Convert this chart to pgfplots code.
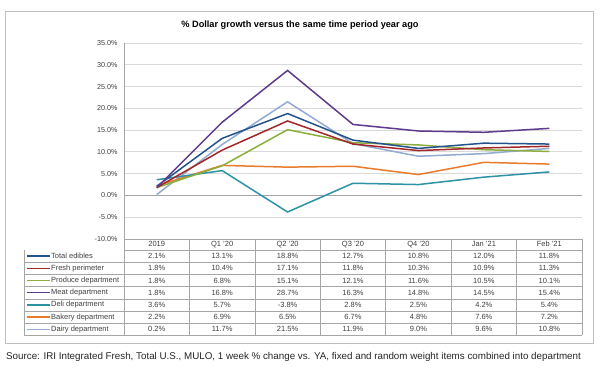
\documentclass[border=0pt]{standalone}
\usepackage{pgfplots}
\pgfplotsset{compat=1.18}
\usepackage{fontspec}
\setmainfont{Liberation Sans}
\definecolor{ctot}{HTML}{24528C}
\definecolor{cfre}{HTML}{A3262A}
\definecolor{cpro}{HTML}{8CAE3E}
\definecolor{cmea}{HTML}{5E3B8E}
\definecolor{cdel}{HTML}{2E92A6}
\definecolor{cbak}{HTML}{EA7B2C}
\definecolor{cdai}{HTML}{93AAD1}
\definecolor{gridg}{HTML}{D9D9D9}
\definecolor{tabg}{HTML}{A6A6A6}
\definecolor{frameg}{HTML}{BFBFBF}
\definecolor{txtg}{HTML}{404040}

\pgfplotstableread{
x tot fre pro mea del bak dai
0 2.1 1.8 1.8 1.8 3.6 2.2 0.2
1 13.1 10.4 6.8 16.8 5.7 6.9 11.7
2 18.8 17.1 15.1 28.7 -3.8 6.5 21.5
3 12.7 11.8 12.1 16.3 2.8 6.7 11.9
4 10.8 10.3 11.6 14.8 2.5 4.8 9.0
5 12.0 10.9 10.5 14.5 4.2 7.6 9.6
6 11.8 11.3 10.1 15.4 5.4 7.2 10.8
}\datatab

\newcommand\tabfont{\fontsize{7.5}{8}\selectfont}
\newcommand\tabrow[4]{%
  \draw[#2, line width=1.5] (27,{126-12.2*#1+6.1}) -- (50,{126-12.2*#1+6.1});
  \node[anchor=west, inner sep=0, font=\tabfont, text=txtg] at (51,{126-12.2*#1+6.1}) {#3};
  \foreach \v [count=\j] in {#4} {
    \node[inner sep=0, font=\tabfont, text=txtg] at ({124+65.43*(\j-0.5)},{126-12.2*#1+6.1}) {\v\%};
  }
}

\begin{document}
\begin{tikzpicture}[x=1pt,y=1pt]
\useasboundingbox (0,0) rectangle (600,376);
\fill[white] (0,0) rectangle (600,376);
\draw[frameg, line width=0.8] (5,33) rectangle (593,365);
\node[font=\bfseries\fontsize{9.2}{10}\selectfont, text=black] at (300,351) {\% Dollar growth versus the same time period year ago};

\begin{axis}[
  at={(124pt,137pt)}, anchor=south west,
  scale only axis, width=458pt, height=196pt,
  xmin=-0.5, xmax=6.5, ymin=-10, ymax=35,
  ytick={-10,-5,...,35}, xtick=\empty,
  axis x line=none, axis y line=left,
  y axis line style={-, tabg, line width=0.6},
  ymajorgrids, grid style={gridg, line width=0.8},
  major tick length=0pt,
  /pgf/number format/assume math mode=true,
  yticklabel={\pgfmathprintnumber[fixed,fixed zerofill,precision=1]{\tick}\%},
  yticklabel style={font=\fontsize{7.2}{8}\selectfont, text=txtg, xshift=-3pt},
  clip=false,
  every axis plot/.append style={line width=1.5, no marks},
]
\draw[tabg, line width=1.3] (axis cs:-0.5,0) -- (axis cs:6.5,0);
\addplot[cdai] table[x=x,y=dai] {\datatab};
\addplot[cbak] table[x=x,y=bak] {\datatab};
\addplot[cdel] table[x=x,y=del] {\datatab};
\addplot[cpro] table[x=x,y=pro] {\datatab};
\addplot[cfre] table[x=x,y=fre] {\datatab};
\addplot[ctot] table[x=x,y=tot] {\datatab};
\addplot[cmea] table[x=x,y=mea] {\datatab};
\end{axis}

% table grid
\begin{scope}[tabg, line width=0.6]
  \draw (124,137) -- (582,137);
  \foreach \i in {0,...,7} { \draw ({\ifnum\i=0 124\else 24\fi},{126-12.2*\i}) -- (582,{126-12.2*\i}); }
  \draw (24,126) -- (24,{126-12.2*7});
  \foreach \j in {0,...,7} { \draw ({124+65.43*\j},137) -- ({124+65.43*\j},{126-12.2*7}); }
\end{scope}
\foreach \h [count=\j] in {2019,Q1 '20,Q2 '20,Q3 '20,Q4 '20,Jan '21,Feb '21} {
  \node[inner sep=0, font=\tabfont, text=txtg] at ({124+65.43*(\j-0.5)},131.7) {\h};
}
\tabrow{1}{ctot}{Total edibles}{2.1,13.1,18.8,12.7,10.8,12.0,11.8}
\tabrow{2}{cfre}{Fresh perimeter}{1.8,10.4,17.1,11.8,10.3,10.9,11.3}
\tabrow{3}{cpro}{Produce department}{1.8,6.8,15.1,12.1,11.6,10.5,10.1}
\tabrow{4}{cmea}{Meat department}{1.8,16.8,28.7,16.3,14.8,14.5,15.4}
\tabrow{5}{cdel}{Deli department}{3.6,5.7,-3.8,2.8,2.5,4.2,5.4}
\tabrow{6}{cbak}{Bakery department}{2.2,6.9,6.5,6.7,4.8,7.6,7.2}
\tabrow{7}{cdai}{Dairy department}{0.2,11.7,21.5,11.9,9.0,9.6,10.8}

\node[anchor=west, inner sep=0, font=\fontsize{9.8}{10}\selectfont, text=black!85] at (6,19) {Source: IRI Integrated Fresh, Total U.S., MULO, 1 week \% change vs. YA, fixed and random weight items combined into department};
\end{tikzpicture}
\end{document}
